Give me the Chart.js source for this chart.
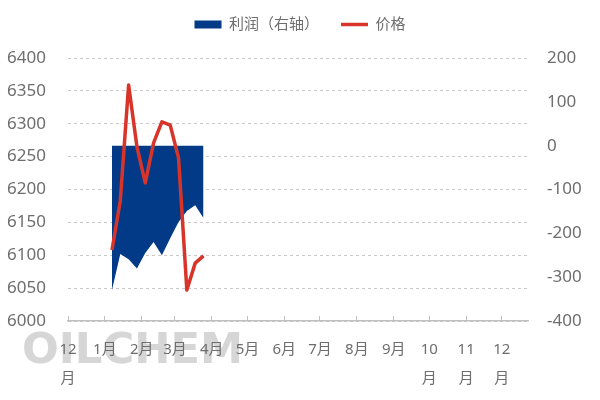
<!DOCTYPE html>
<html>
<head>
<meta charset="utf-8">
<script src="https://cdn.jsdelivr.net/npm/chart.js@4"></script>
<style>
  html, body { margin: 0; padding: 0; background: #fff; }
  #wrap { width: 600px; height: 400px; position: relative; }
</style>
</head>
<body>
<div id="wrap"><canvas id="chart"></canvas></div>
<script>
// weekly observations
const weekDates = [
  "2025-01-07", "2025-01-14", "2025-01-21", "2025-01-28",
  "2025-02-04", "2025-02-11", "2025-02-18", "2025-02-25",
  "2025-03-04", "2025-03-11", "2025-03-18", "2025-03-25"
];
const profitValues = [-329, -247, -259, -280, -245, -220, -250, -211, -174, -149, -136, -165];
const priceValues = [6108, 6183, 6359, 6265, 6210, 6271, 6303, 6298, 6248, 6047, 6088, 6099];

// month ticks on the x axis
const monthStarts = [
  "2024-12-01", "2025-01-01", "2025-02-01", "2025-03-01", "2025-04-01",
  "2025-05-01", "2025-06-01", "2025-07-01", "2025-08-01", "2025-09-01",
  "2025-10-01", "2025-11-01", "2025-12-01"
];
const monthLabels = ["12月", "1月", "2月", "3月", "4月", "5月", "6月", "7月", "8月", "9月", "10月", "11月", "12月"];
const axisEndDate = "2025-12-23";

const priceTicks = { min: 6000, max: 6400, step: 50 };
const profitTicks = { min: -400, max: 200, step: 100 };

const BLUE = "#023a87";
const RED = "#d8342a";
const GREY_TEXT = "#6e6e6e";
const FONT = '"Noto Sans", "Noto Sans CJK SC", sans-serif';

const origin = Date.UTC(2024, 11, 1);

function dayOf(dateText) {
  const [y, m, d] = dateText.split("-").map(Number);
  return Math.round((Date.UTC(y, m - 1, d) - origin) / 86400000);
}

const monthDays = monthStarts.map(dayOf);

// long month names wrap onto two lines, like the original
function wrapLabel(text) {
  return text.length > 2 ? [text.slice(0, -1), text.slice(-1)] : text;
}

// extra room under the legend
const legendGap = {
  id: "legendGap",
  beforeInit(chart) {
    const fit = chart.legend.fit;
    chart.legend.fit = function () {
      fit.call(this);
      this.height += 16;
    };
  }
};

const watermark = {
  id: "watermark",
  beforeDraw(chart) {
    const ctx = chart.ctx;
    ctx.save();
    ctx.font = 'bold 42px "DejaVu Sans", sans-serif';
    const text = "OILCHEM";
    const w = ctx.measureText(text).width;
    const grad = ctx.createLinearGradient(0, 331, 0, 364);
    grad.addColorStop(0, "#d6d6d6");
    grad.addColorStop(1, "#f8f8f8");
    ctx.fillStyle = grad;
    ctx.textBaseline = "alphabetic";
    ctx.translate(22, 363);
    ctx.scale(221 / w, 1);
    ctx.fillText(text, 0, 0);
    ctx.restore();
  }
};

new Chart(document.getElementById("chart"), {
  type: "line",
  data: {
    datasets: [
      {
        label: "利润（右轴）",
        data: weekDates.map((d, i) => ({ x: dayOf(d), y: profitValues[i] })),
        yAxisID: "y1",
        borderColor: BLUE,
        backgroundColor: BLUE,
        borderWidth: 0,
        pointRadius: 0,
        pointStyle: "rect",
        fill: "origin",
        tension: 0,
        order: 2
      },
      {
        label: "价格",
        data: weekDates.map((d, i) => ({ x: dayOf(d), y: priceValues[i] })),
        yAxisID: "y",
        borderColor: RED,
        backgroundColor: RED,
        borderWidth: 3.5,
        borderJoinStyle: "round",
        pointRadius: 0,
        pointStyle: "line",
        fill: false,
        tension: 0,
        order: 1
      }
    ]
  },
  options: {
    responsive: true,
    maintainAspectRatio: false,
    animation: false,
    layout: {
      padding: { left: 0, right: 0, top: -5, bottom: 0 }
    },
    plugins: {
      legend: {
        position: "top",
        labels: {
          usePointStyle: true,
          pointStyleWidth: 27,
          boxHeight: 8,
          padding: 22,
          color: GREY_TEXT,
          font: { family: FONT, size: 15 },
          sort: (a, b) => a.datasetIndex - b.datasetIndex
        }
      },
      tooltip: { enabled: false }
    },
    scales: {
      x: {
        type: "linear",
        min: 0,
        max: dayOf(axisEndDate),
        afterBuildTicks(scale) {
          scale.ticks = monthDays.map(v => ({ value: v }));
        },
        afterFit(scale) {
          scale.height = 79;
        },
        grid: {
          drawOnChartArea: false,
          drawTicks: true,
          tickLength: -5,
          tickColor: "#bfbfbf",
          tickWidth: 1
        },
        border: { display: true, color: "#bfbfbf", width: 1.5 },
        ticks: {
          autoSkip: false,
          maxRotation: 0,
          padding: 20,
          color: GREY_TEXT,
          font: { family: FONT, size: 15, lineHeight: 1.88 },
          callback(value, index) {
            return wrapLabel(monthLabels[index]);
          }
        }
      },
      y: {
        position: "left",
        min: priceTicks.min,
        max: priceTicks.max,
        afterFit(scale) {
          scale.width = 68;
        },
        grid: {
          color: "#c9c9c9",
          lineWidth: 1,
          drawTicks: false
        },
        border: { display: false, dash: [3, 3] },
        ticks: {
          stepSize: priceTicks.step,
          padding: 22,
          color: GREY_TEXT,
          font: { family: FONT, size: 17 },
          callback: value => String(value)
        }
      },
      y1: {
        position: "right",
        min: profitTicks.min,
        max: profitTicks.max,
        afterFit(scale) {
          scale.width = 72;
        },
        grid: { display: false, drawTicks: false },
        border: { display: false },
        ticks: {
          stepSize: profitTicks.step,
          padding: 19,
          crossAlign: "near",
          color: GREY_TEXT,
          font: { family: FONT, size: 17 },
          callback: value => String(value)
        }
      }
    }
  },
  plugins: [legendGap, watermark]
});
</script>
</body>
</html>
